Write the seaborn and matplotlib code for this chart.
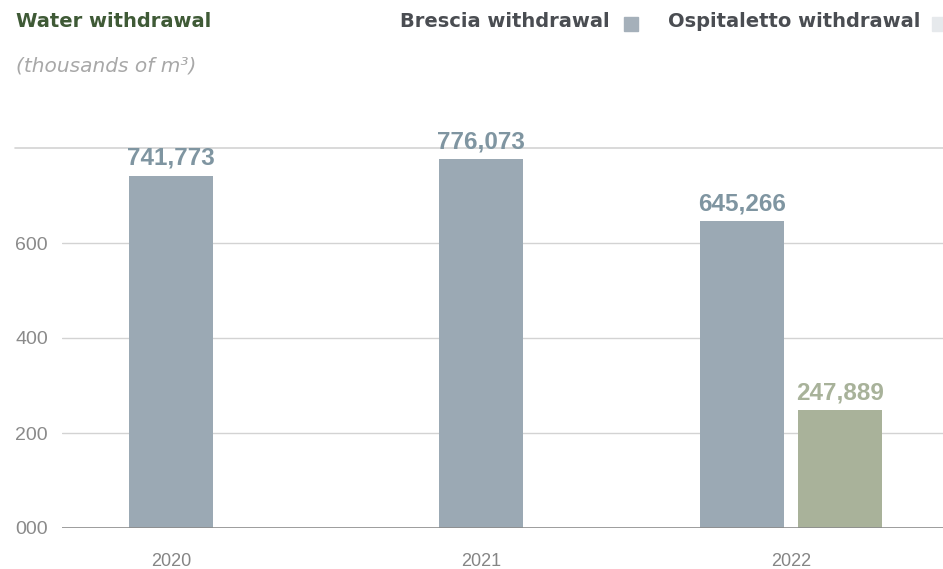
import matplotlib
matplotlib.use("Agg")
import matplotlib.pyplot as plt
from matplotlib.patches import Rectangle
import seaborn as sns
import pandas as pd
import numpy as np

# Data (thousands of m3)
years = ["2020", "2021", "2022"]
brescia = [741.773, 776.073, 645.266]
ospitaletto = [None, None, 247.889]
series_names = ["Brescia withdrawal", "Ospitaletto withdrawal"]
y_ticks = [0, 200, 400, 600, 800]
y_tick_labels = ["000", "200", "400", "600", ""]

c_brescia = "#9BA9B4"
c_ospit = "#A9B29A"
c_brescia_lbl = "#7F95A1"
c_ospit_lbl = "#A8B29A"

# Place bars: a year with a single series is centred, two series are dodged
half_gap = 0.158
rows = []
for i, y in enumerate(years):
    vals = [(series_names[0], brescia[i]), (series_names[1], ospitaletto[i])]
    present = [(s, v) for s, v in vals if v is not None]
    offs = [0.0] if len(present) == 1 else [-half_gap, half_gap]
    for (s, v), o in zip(present, offs):
        rows.append({"pos": i + o, "value": v, "series": s, "year": y})
df = pd.DataFrame(rows)

sns.set_theme(style="white")
plt.rcParams["font.family"] = ["Liberation Sans", "DejaVu Sans"]
head_font = ["DejaVu Sans"]

fig = plt.figure(figsize=(9.43, 5.69), dpi=100)
ax = fig.add_axes([62 / 943, 1 - 528 / 569, 1 - 62 / 943, (528 - 148) / 569])

bar_w = 0.271
min_gap = 2 * half_gap
sns.barplot(data=df, x="pos", y="value", hue="series", native_scale=True,
            dodge=False, width=bar_w / min_gap, linewidth=0,
            palette={series_names[0]: c_brescia, series_names[1]: c_ospit},
            saturation=1, legend=False, ax=ax, zorder=3)

ax.set_xlim(-0.352, 2.49)
ax.set_ylim(0, 800)
ax.set_yticks(y_ticks)
ax.set_yticklabels(y_tick_labels)
ax.set_xticks(range(len(years)))
ax.set_xticklabels(years)
ax.set_xlabel("")
ax.set_ylabel("")
for sp in ax.spines.values():
    sp.set_visible(False)

# Gridlines
for t in y_ticks[1:-1]:
    ax.axhline(t, color="#D3D3D3", lw=1, zorder=1)
ax.axhline(y_ticks[-1], xmin=-47 / 881, xmax=1, color="#D3D3D3", lw=1.2,
           zorder=1, clip_on=False)
ax.axhline(0, color="#8C8C8C", lw=1.2, zorder=4)

ax.tick_params(axis="y", length=0, labelsize=14, labelcolor="#8A8A8A")
ax.tick_params(axis="x", length=0, pad=18, labelsize=13, labelcolor="#858585")
for lab in ax.get_yticklabels():
    lab.set_horizontalalignment("left")
    lab.set_x(-47 / 881)
ax.tick_params(axis="y", pad=0)

# Value labels
for _, r in df.iterrows():
    col = c_brescia_lbl if r["series"] == series_names[0] else c_ospit_lbl
    ax.annotate(f"{int(round(r['value'] * 1000)):,}", (r["pos"], r["value"]),
                xytext=(0, 8), textcoords="offset points", ha="center",
                va="baseline", fontsize=17.5, fontweight="bold", color=col,
                zorder=5)

# Title and unit
fig.text(16 / 943, 1 - 27 / 569, "Water withdrawal", fontsize=14,
         fontweight="bold", color="#3F5A36", family=head_font)
fig.text(16 / 943, 1 - 72 / 569, "(thousands of m³)", fontsize=14.5,
         style="italic", color="#A8A8A8", family=head_font,
         fontweight="light")

# Legend
fig.text(610 / 943, 1 - 27 / 569, series_names[0], fontsize=14,
         fontweight="bold", color="#4A4D52", ha="right", family=head_font)
fig.patches.append(Rectangle((624 / 943, 1 - 31 / 569), 14 / 943, 14 / 569,
                             transform=fig.transFigure, color="#A5B0BA",
                             figure=fig))
fig.text(920 / 943, 1 - 27 / 569, series_names[1], fontsize=14,
         fontweight="bold", color="#4A4D52", ha="right", family=head_font)
fig.patches.append(Rectangle((932 / 943, 1 - 31 / 569), 14 / 943, 14 / 569,
                             transform=fig.transFigure, color="#E6E9EC",
                             figure=fig))

fig.savefig("out.png", dpi=100)
